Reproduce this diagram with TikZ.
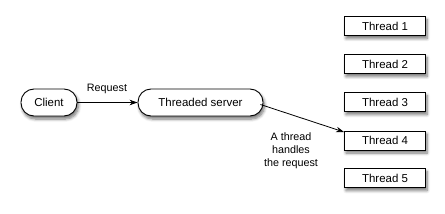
\documentclass[tikz,border=0pt]{standalone}
\usepackage{fontspec}
\setmainfont{Liberation Sans}
\usetikzlibrary{arrows.meta,shadows.blur,calc}
\begin{document}
\begin{tikzpicture}[x=1bp,y=1bp,
  shd/.style={blur shadow={shadow xshift=1.5bp,shadow yshift=-3bp,shadow blur steps=6,shadow blur radius=3bp,shadow opacity=55}},
  pill/.style={draw,line width=0.9bp,fill=white,rounded corners=13bp,minimum height=27bp,font=\fontsize{11.5}{13}\selectfont,inner sep=0pt,shd},
  thr/.style={draw,line width=0.9bp,fill=white,minimum width=81bp,minimum height=19bp,font=\fontsize{11.5}{13}\selectfont,inner sep=0pt,shd},
  lbl/.style={font=\fontsize{10.8}{13}\selectfont,align=center,inner sep=0pt},
  arr/.style={line width=0.8bp,-{Stealth[length=8bp,width=5.5bp]}}]
\useasboundingbox (0,0) rectangle (445,213);
\node[pill,minimum width=56bp] (client) at (49,110.5) {Client};
\node[pill,minimum width=125bp] (server) at (200.5,110.5) {Threaded server};
\node[thr] (t1) at (385,187) {Thread 1};
\node[thr] (t2) at (385,149) {Thread 2};
\node[thr] (t3) at (385,111) {Thread 3};
\node[thr] (t4) at (385,72.5) {Thread 4};
\node[thr] (t5) at (385,35) {Thread 5};
\draw[arr] (client) -- (server);
\coordinate (src) at ($(server.east)+(-3,-2)$);
\coordinate (tip) at ($(t4.west)+(0,8.5)$);
\draw[arr] (src) -- (tip);
\node[lbl] (req) at (107,124) {Request};
\node[lbl] (note) at (291,62) {A thread\\handles\\the request};
\end{tikzpicture}
\end{document}
